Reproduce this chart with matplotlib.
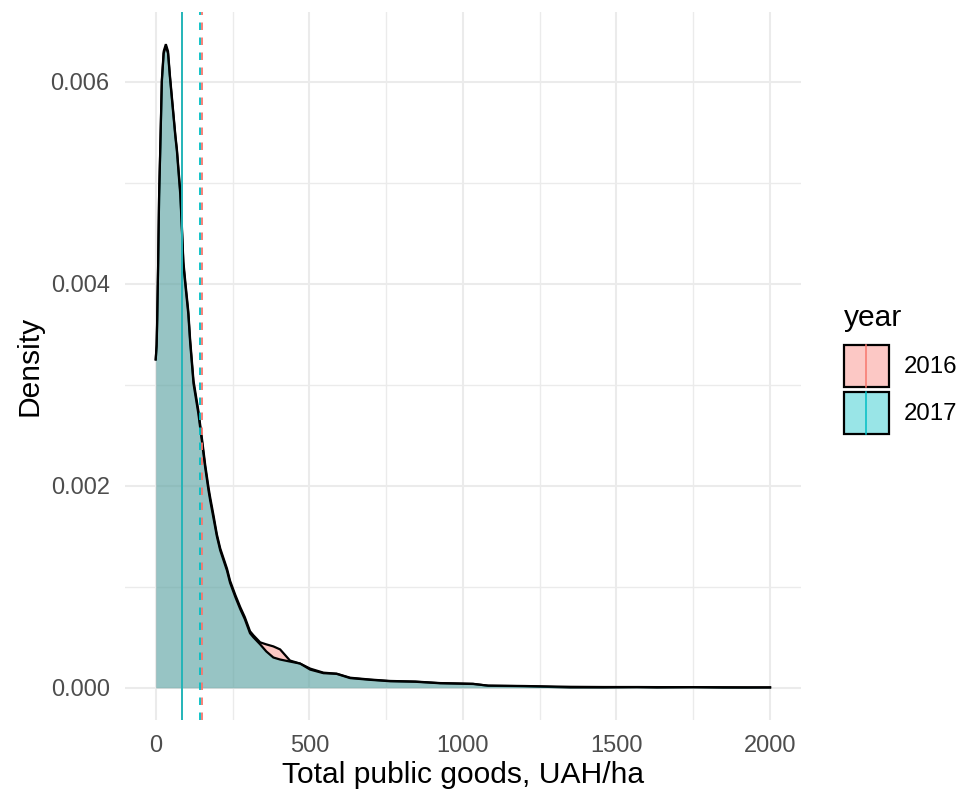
import matplotlib
matplotlib.use("Agg")
import matplotlib.pyplot as plt
from matplotlib.patches import Rectangle
from matplotlib.lines import Line2D
from matplotlib.legend_handler import HandlerBase

plt.rcParams['font.family'] = ['Liberation Sans', 'DejaVu Sans']
plt.rcParams['lines.scale_dashes'] = False

# ---------------- data ----------------
years = ["2016", "2017"]
fill_colors = ["#F8766D", "#00BFC4"]

grid_x = [0, 3, 5, 8, 11, 15, 20, 26, 33, 40, 46, 52, 58, 64, 69, 74, 80, 85,
          90, 96, 106, 112, 123, 139, 150, 161, 172, 177, 188, 199, 210, 232,
          242, 259, 275, 290, 307, 318, 340, 360, 383, 405, 437, 470, 503, 546,
          589, 633, 698, 763, 845, 926, 1033, 1082, 1200, 1350, 1457, 1567,
          1632, 1750, 1847, 1925, 2000]

dens_2017 = [0.00325, 0.00338, 0.00365, 0.00420, 0.00485, 0.00535, 0.00600,
             0.00628, 0.00635, 0.00628, 0.00605, 0.00585, 0.00565, 0.00545,
             0.00531, 0.00511, 0.00488, 0.00455, 0.00419, 0.00400, 0.00370,
             0.00342, 0.00301, 0.00271, 0.00245, 0.00218, 0.00195, 0.00186,
             0.00168, 0.00150, 0.00136, 0.00116, 0.00104, 0.00090, 0.00078,
             0.00068, 0.00054, 0.00050, 0.00043, 0.00036, 0.00030, 0.00028,
             0.00026, 0.00024, 0.00018, 0.000145, 0.000138, 0.000096, 0.000079,
             0.000065, 0.000060, 0.000045, 0.000038, 0.000022, 0.000018,
             0.000010, 0.000008, 0.000008, 0.000007, 0.000007, 0.000006,
             0.000005, 0.000004]

dens_2016 = [0.00325, 0.00340, 0.00368, 0.00422, 0.00487, 0.00537, 0.00602,
             0.00630, 0.00637, 0.00630, 0.00607, 0.00587, 0.00567, 0.00547,
             0.00533, 0.00514, 0.00491, 0.00458, 0.00422, 0.00403, 0.00373,
             0.00345, 0.00304, 0.00274, 0.00248, 0.00221, 0.00198, 0.00189,
             0.00171, 0.00152, 0.00138, 0.00118, 0.00106, 0.00092, 0.00080,
             0.00070, 0.00056, 0.00052, 0.00045, 0.00043, 0.00041, 0.00038,
             0.00027, 0.00024, 0.00019, 0.000150, 0.000140, 0.000100, 0.000082,
             0.000068, 0.000062, 0.000047, 0.000040, 0.000020, 0.000016,
             0.000003, 0.000003, 0.000006, 0.000003, 0.000006, 0.000002,
             0.000002, 0.000004]

medians = [86.5, 87.0]
means = [152.0, 145.5]

# ---------------- figure ----------------
W, H = 963, 794
fig = plt.figure(figsize=(W / 100, H / 100), dpi=100)
ax = fig.add_axes([125 / W, (H - 720) / H, (800.8 - 125) / W, (720 - 12) / H])

dens = [dens_2016, dens_2017]
z = 2
for d, c in zip(dens, fill_colors):
    ax.fill_between(grid_x, d, 0, color=c, alpha=0.4, lw=0, zorder=z)
    ax.plot(grid_x, d, color="black", lw=1.6, zorder=z + 0.5,
            solid_joinstyle="miter")
    z += 1

for m, c in zip(medians, fill_colors):
    ax.axvline(m, color=c, lw=1.2, zorder=10)
for m, c in zip(means, fill_colors):
    ax.axvline(m, color=c, lw=1.3, ls=(0, (5.4, 5.4)), zorder=10)

ymax = max(max(dens_2016), max(dens_2017))
ax.set_xlim(-100, 2100)
ax.set_ylim(-0.05 * ymax, 1.05 * ymax)

ax.set_xticks([0, 500, 1000, 1500, 2000])
ax.set_xticks([250, 750, 1250, 1750], minor=True)
ax.set_yticks([0.000, 0.002, 0.004, 0.006])
ax.set_yticks([0.001, 0.003, 0.005], minor=True)
ax.set_yticklabels(["0.000", "0.002", "0.004", "0.006"])
ax.set_xticklabels(["0", "500", "1000", "1500", "2000"])

ax.grid(True, which="major", color="#EBEBEB", lw=1.5, zorder=0)
ax.grid(True, which="minor", color="#EBEBEB", lw=1.0, zorder=0)
ax.set_axisbelow(True)
for s in ax.spines.values():
    s.set_visible(False)
ax.tick_params(which="both", length=0)
ax.tick_params(axis="y", pad=11, labelsize=17, labelcolor="#4D4D4D")
ax.tick_params(axis="x", pad=11, labelsize=17, labelcolor="#4D4D4D")

ax.set_xlabel("Total public goods, UAH/ha", fontsize=21.6, labelpad=3)
ax.set_ylabel("Density", fontsize=21.6, labelpad=5)


# ---------------- legend ----------------
class KeyHandle:
    def __init__(self, fill, line):
        self.fill = fill
        self.line = line


class KeyHandler(HandlerBase):
    def create_artists(self, legend, orig_handle, xdescent, ydescent, width,
                       height, fontsize, trans):
        x0, y0 = -xdescent, -ydescent
        r = Rectangle((x0, y0), width, height, facecolor=orig_handle.fill,
                      edgecolor="black", lw=1.6, transform=trans)
        ln = Line2D([x0 + width / 2] * 2, [y0, y0 + height],
                    color=orig_handle.line, lw=1.1, transform=trans)
        return [r, ln]


def alpha_on_white(hexc, a):
    h = hexc.lstrip("#")
    rgb = [int(h[i:i + 2], 16) / 255 for i in (0, 2, 4)]
    return tuple(a * v + (1 - a) for v in rgb)


handles = [KeyHandle(alpha_on_white(c, 0.4), c) for c in fill_colors]
leg = fig.legend(handles, years, handler_map={KeyHandle: KeyHandler()},
                 loc="upper left", bbox_to_anchor=(844 / W, 1 - 304 / H),
                 frameon=False, fontsize=17.3, title="year",
                 title_fontsize=21.6, handlelength=1.87, handleheight=2.33,
                 handletextpad=0.6, labelspacing=0.2, borderpad=0,
                 borderaxespad=0, alignment="left")
leg._legend_box.sep = 9

fig.savefig("out.png", dpi=100)
